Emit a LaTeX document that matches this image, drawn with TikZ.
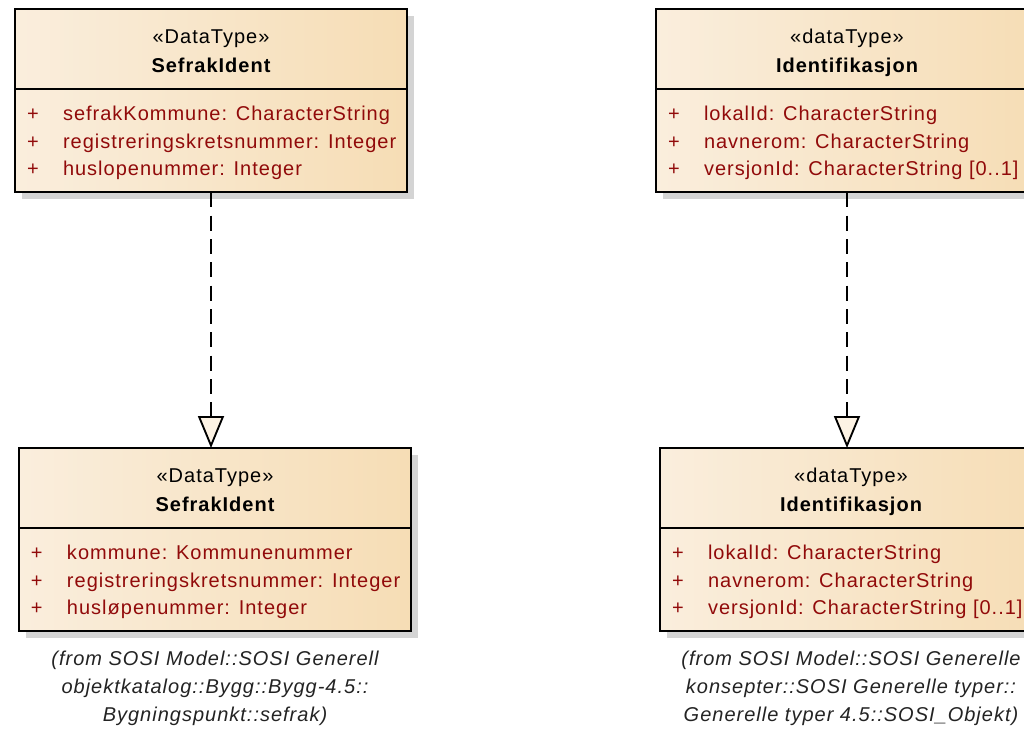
\documentclass[tikz,border=0pt]{standalone}
\usepackage{fontspec}
\setmainfont{Liberation Sans}[LetterSpace=5]
\usetikzlibrary{positioning,shadows,arrows.meta}

\definecolor{boxleft}{RGB}{250,238,221}
\definecolor{boxright}{RGB}{246,221,181}
\definecolor{attrred}{RGB}{145,10,10}
\definecolor{shadowgray}{RGB}{212,212,212}
\definecolor{tipfill}{RGB}{253,243,228}
\definecolor{notegray}{RGB}{35,35,35}

\newcommand\attr[1]{\makebox[27pt][l]{+}#1}

\begin{document}
\begin{tikzpicture}
[x=0.75pt,y=-0.75pt,
 every node/.style={inner sep=0pt,outer sep=0pt,font=\fontsize{15}{20.8}\selectfont},
 cls/.style={rectangle,draw=black,line width=1.5pt,left color=boxleft,right color=boxright,
             minimum height=137.5pt,anchor=north west,
             drop shadow={shadow xshift=5.25pt,shadow yshift=-5.25pt,fill=shadowgray,opacity=1}},
 wide/.style={minimum width=294pt},
 narrow/.style={minimum width=286.5pt},
 ster/.style={anchor=base},
 clsname/.style={anchor=base,font=\fontsize{15}{20.8}\selectfont\bfseries},
 attrline/.style={anchor=base west,text=attrred},
 pkgnote/.style={anchor=north,align=center,text=notegray,font=\fontsize{15}{21}\selectfont\itshape},
 divider/.style={line width=1.5pt},
 realize/.style={dash pattern=on 11.25pt off 6.25pt,line width=1.4pt,
                 -{Triangle[length=24pt,width=19.5pt,fill=tipfill]}}]

\useasboundingbox (0,0) rectangle (1024,728);
\clip (0,0) rectangle (1024,728);

% SefrakIdent (source)
\node[cls,wide] (S0) at (15,9) {};
\draw[divider] ([yshift=-60pt]S0.north west) -- ([yshift=-60pt]S0.north east);
\node (S0st) [below=26.1pt of S0.north,ster]    {«DataType»};
\node (S0nm) [below=47.4pt of S0.north,clsname] {SefrakIdent};
\node (S0a1) [below right=83.6pt and 9pt of S0.north west,attrline] {\attr{sefrakKommune: CharacterString}};
\node (S0a2) [below=20.8pt of S0a1.base west,attrline]                {\attr{registreringskretsnummer: Integer}};
\node (S0a3) [below=20.8pt of S0a2.base west,attrline]                {\attr{huslopenummer: Integer}};

% SefrakIdent (target)
\node[cls,wide] (S1) at (19,448) {};
\draw[divider] ([yshift=-60pt]S1.north west) -- ([yshift=-60pt]S1.north east);
\node (S1st) [below=26.1pt of S1.north,ster]    {«DataType»};
\node (S1nm) [below=47.4pt of S1.north,clsname] {SefrakIdent};
\node (S1a1) [below right=83.6pt and 9pt of S1.north west,attrline] {\attr{kommune: Kommunenummer}};
\node (S1a2) [below=20.8pt of S1a1.base west,attrline]                {\attr{registreringskretsnummer: Integer}};
\node (S1a3) [below=20.8pt of S1a2.base west,attrline]                {\attr{husløpenummer: Integer}};
\node[pkgnote] (S1pk) [below=15pt of S1.south,pkgnote]
  {(from SOSI Model::SOSI Generell\\objektkatalog::Bygg::Bygg-4.5::\\Bygningspunkt::sefrak)};

% Identifikasjon (source)
\node[cls,narrow] (I0) at (656,9) {};
\draw[divider] ([yshift=-60pt]I0.north west) -- ([yshift=-60pt]I0.north east);
\node (I0st) [below=26.1pt of I0.north,ster]    {«dataType»};
\node (I0nm) [below=47.4pt of I0.north,clsname] {Identifikasjon};
\node (I0a1) [below right=83.6pt and 9pt of I0.north west,attrline] {\attr{lokalId: CharacterString}};
\node (I0a2) [below=20.8pt of I0a1.base west,attrline]                {\attr{navnerom: CharacterString}};
\node (I0a3) [below=20.8pt of I0a2.base west,attrline]                {\attr{versjonId: CharacterString [0..1]}};

% Identifikasjon (target)
\node[cls,narrow] (I1) at (660,448) {};
\draw[divider] ([yshift=-60pt]I1.north west) -- ([yshift=-60pt]I1.north east);
\node (I1st) [below=26.1pt of I1.north,ster]    {«dataType»};
\node (I1nm) [below=47.4pt of I1.north,clsname] {Identifikasjon};
\node (I1a1) [below right=83.6pt and 9pt of I1.north west,attrline] {\attr{lokalId: CharacterString}};
\node (I1a2) [below=20.8pt of I1a1.base west,attrline]                {\attr{navnerom: CharacterString}};
\node (I1a3) [below=20.8pt of I1a2.base west,attrline]                {\attr{versjonId: CharacterString [0..1]}};
\node[pkgnote] (I1pk) [below=15pt of I1.south,pkgnote]
  {(from SOSI Model::SOSI Generelle\\konsepter::SOSI Generelle typer::\\Generelle typer 4.5::SOSI\_Objekt)};

% realizations
\draw[realize] (S0.south) -- (S0.south |- S1.north);
\draw[realize] (I0.south) -- (I0.south |- I1.north);

\end{tikzpicture}
\end{document}
